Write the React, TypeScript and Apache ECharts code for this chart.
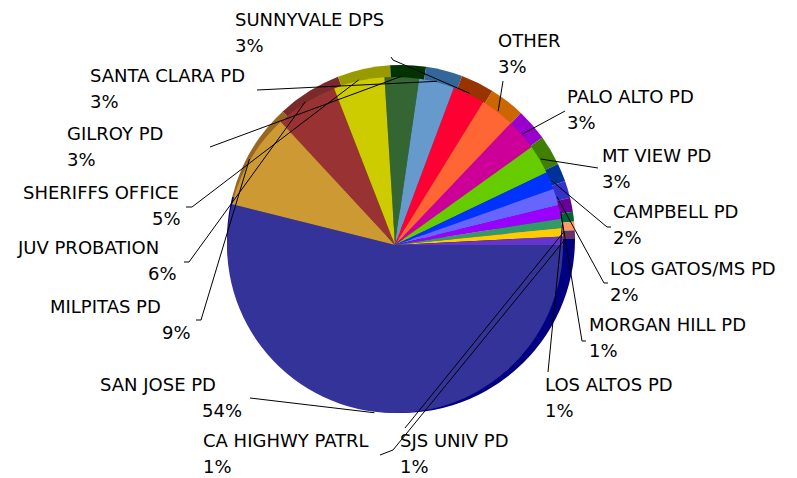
import React, { useEffect, useRef } from 'react';
import * as echarts from 'echarts';

// ---- data ----
const categories = [
  'SAN JOSE PD', 'MILPITAS PD', 'JUV PROBATION', 'SHERIFFS OFFICE', 'GILROY PD',
  'SANTA CLARA PD', 'SUNNYVALE DPS', 'OTHER', 'PALO ALTO PD', 'MT VIEW PD',
  'CAMPBELL PD', 'LOS GATOS/MS PD', 'MORGAN HILL PD', 'LOS ALTOS PD', 'SJS UNIV PD',
  'CA HIGHWY PATRL',
];
const shares = [53.9, 9.2, 6.0, 4.9, 3.3, 3.4, 3.1, 3.3, 3.0, 2.8, 1.7, 1.6, 1.3, 0.9, 0.8, 0.8];

// ---- styles ----
const topColors = [
  '#333399', '#CC9933', '#993333', '#CCCC00', '#336633', '#6699CC', '#FF0033', '#FF6633',
  '#CC0099', '#66CC00', '#0033FF', '#6666FF', '#9900FF', '#339966', '#FFCC00', '#6633CC',
];
const sideColors = [
  '#000080', '#996622', '#7A2A2A', '#999900', '#003300', '#336699', '#993300', '#CC6600',
  '#9900CC', '#408000', '#003399', '#3333CC', '#660099', '#006633', '#FF9966', '#663366',
];

// ---- geometry / label layout ----
const SIDE_CENTER = [401, 239];
const SIDE_RADIUS = 174;
const TOP_CENTER = [395, 245];
const TOP_RADIUS = 168;
const START_ANGLE = 0;

// top-left of each label block
const labelPos: number[][] = [
  [100, 371], [50, 293], [18, 234], [23, 179], [67, 120], [90, 62], [235, 6], [498, 27],
  [567, 83], [602, 142], [613, 198], [610, 255], [589, 311], [545, 371], [400, 427], [203, 427],
];
const labelIndent = [102, 112, 130, 129, 0, 0, 0, 0, 0, 0, 0, 0, 0, 0, 0, 0];
// label-side points of each leader line (nearest the slice last)
const leaderEnds: number[][][] = [
  [[250, 398]],
  [[196, 320], [201, 320]],
  [[184, 262], [189, 262]],
  [[186, 207], [192, 207]],
  [[210, 147]],
  [[257, 90]],
  [[391, 57], [393, 60]],
  [[503, 81]],
  [[565, 111]],
  [[598, 168]],
  [[611, 227], [607, 227]],
  [[608, 283], [604, 283]],
  [[586, 341], [582, 341]],
  [[548, 372]],
  [[405, 428]],
  [[380, 455], [393, 450]],
];

const FONT = '"DejaVu Sans", Tahoma, Verdana, sans-serif';

export default function App() {
  const ref = useRef<HTMLDivElement>(null);

  useEffect(() => {
    if (!ref.current) return;
    const chart = echarts.init(ref.current, undefined, { renderer: 'svg' });

    const total = shares.reduce((a, b) => a + b, 0);
    const midAngles: number[] = [];
    let acc = 0;
    shares.forEach((v) => {
      midAngles.push(START_ANGLE + ((acc + v / 2) / total) * 360);
      acc += v;
    });

    const rich: Record<string, any> = {
      n: { fontSize: 18, lineHeight: 26, fontFamily: FONT, color: '#000' },
    };
    labelIndent.forEach((ind, k) => {
      rich['i' + k] = {
        fontSize: 18, lineHeight: 26, fontFamily: FONT, color: '#000',
        padding: [0, 0, 0, ind],
      };
    });

    const sideData = categories.map((name, i) => ({
      name, value: shares[i], itemStyle: { color: sideColors[i] },
    }));
    const topData = categories.map((name, i) => ({
      name, value: shares[i], itemStyle: { color: topColors[i] },
    }));

    // leader lines: from the slice rim at its mid-angle to the label
    const leaders = categories.map((_, i) => {
      const a = (midAngles[i] * Math.PI) / 180;
      const r = TOP_RADIUS + 1;
      const start = [TOP_CENTER[0] + r * Math.cos(a), TOP_CENTER[1] + r * Math.sin(a)];
      return {
        type: 'polyline',
        silent: true,
        z: 100,
        shape: { points: [start, ...leaderEnds[i].slice().reverse()] },
        style: { stroke: '#000', lineWidth: 1, fill: null },
      };
    });

    chart.setOption({
      animation: false,
      backgroundColor: '#ffffff',
      graphic: leaders,
      series: [
        {
          type: 'pie',
          silent: true,
          center: SIDE_CENTER,
          radius: SIDE_RADIUS,
          startAngle: START_ANGLE,
          clockwise: true,
          label: { show: false },
          labelLine: { show: false },
          itemStyle: { borderWidth: 0 },
          data: sideData,
          z: 1,
        },
        {
          type: 'pie',
          silent: true,
          center: TOP_CENTER,
          radius: TOP_RADIUS,
          startAngle: START_ANGLE,
          clockwise: true,
          avoidLabelOverlap: false,
          itemStyle: { borderWidth: 0 },
          label: {
            show: true,
            position: 'outside',
            formatter: (p: any) => `{n|${p.name}}\n{i${p.dataIndex}|${Math.round(p.percent)}%}`,
            rich,
          },
          labelLine: { show: false },
          labelLayout: (params: any) => {
            const pos = labelPos[params.dataIndex];
            return { x: pos[0], y: pos[1], align: 'left', verticalAlign: 'top' };
          },
          data: topData,
          z: 2,
        },
      ],
    });

    return () => chart.dispose();
  }, []);

  return (
    <div
      ref={ref}
      style={{ position: 'absolute', left: 0, top: 0, width: 797, height: 478, background: '#fff' }}
    />
  );
}
